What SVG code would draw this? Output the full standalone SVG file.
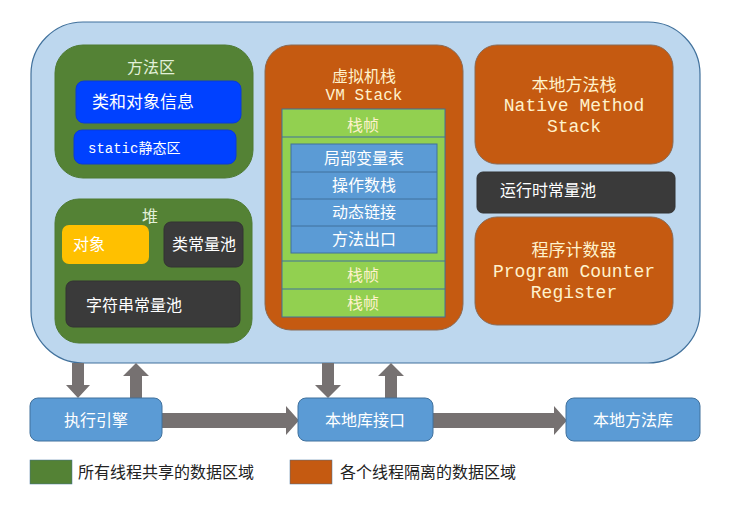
<svg xmlns="http://www.w3.org/2000/svg" width="737" height="514" viewBox="0 0 737 514">
<style>
text{font-family:"Noto Sans CJK SC","Noto Sans",sans-serif;font-size:16px;}
.mono{font-family:"Liberation Mono","DejaVu Sans Mono","Noto Sans CJK SC",monospace;}
.c{text-anchor:middle;}
.cream{fill:#FFF2CC;}
.lg{fill:#E2F0D9;}
.w{fill:#FFFFFF;}
.green{fill:#548235;stroke:#4E7A33;stroke-width:1;}
.orange{fill:#C55A11;stroke:#8A6A55;stroke-width:1;}
.dark{fill:#3A3A3A;stroke:#333;stroke-width:1;}
.vivid{fill:#0041FF;stroke:#0A3AD8;stroke-width:1;}
.frame{fill:#92D050;stroke:#41719C;stroke-width:1;}
.slot{fill:#5B9BD5;stroke:#41719C;stroke-width:1;}
.bbox{fill:#5B9BD5;stroke:#41719C;stroke-width:1;}
.arr{fill:#767171;}
</style>
<rect width="737" height="514" fill="#FFFFFF"/>
<g id="jvm">
<rect x="31" y="22" width="669" height="341" rx="52" ry="52" fill="#BDD7EE" stroke="#41719C" stroke-width="1.2"/>
</g>
<g id="method-area">
<rect class="green" x="55" y="45" width="198" height="133" rx="28"/>
<text class="c lg" x="151" y="73">方法区</text>
<rect class="vivid" x="76" y="81" width="165" height="42" rx="8"/>
<text class="c w" x="143" y="108" style="font-size:17px">类和对象信息</text>
<rect class="vivid" x="74" y="130" width="162" height="34" rx="8"/>
<text class="mono w" x="88" y="153" style="font-size:14px">static静态区</text>
</g>
<g id="heap">
<rect class="green" x="55" y="199" width="197" height="144" rx="24"/>
<text class="c lg" x="150" y="222">堆</text>
<rect x="62" y="225" width="87" height="39" rx="7" fill="#FFC000"/>
<text class="w" x="73" y="250">对象</text>
<rect class="dark" x="164" y="222" width="79" height="45" rx="7"/>
<text class="c w" x="204" y="250">类常量池</text>
<rect class="dark" x="66" y="281" width="174" height="46" rx="7"/>
<text class="w" x="86" y="311">字符串常量池</text>
</g>
<g id="vm-stack">
<rect class="orange" x="265" y="45" width="198" height="285" rx="26"/>
<text class="c cream" x="364" y="82">虚拟机栈</text>
<text class="c cream mono" x="364" y="100" style="font-size:16px">VM Stack</text>
<rect class="frame" x="282" y="109" width="163" height="208"/>
<line x1="282" y1="137" x2="445" y2="137" stroke="#41719C" stroke-width="1"/>
<line x1="282" y1="261" x2="445" y2="261" stroke="#41719C" stroke-width="1"/>
<line x1="282" y1="289" x2="445" y2="289" stroke="#41719C" stroke-width="1"/>
<text class="c cream" x="363" y="131">栈帧</text>
<rect class="slot" x="291" y="144" width="146" height="109"/>
<line x1="291" y1="172" x2="437" y2="172" stroke="#41719C" stroke-width="1"/>
<line x1="291" y1="199" x2="437" y2="199" stroke="#41719C" stroke-width="1"/>
<line x1="291" y1="226" x2="437" y2="226" stroke="#41719C" stroke-width="1"/>
<text class="c w" x="364" y="164">局部变量表</text>
<text class="c w" x="364" y="191">操作数栈</text>
<text class="c w" x="364" y="218">动态链接</text>
<text class="c w" x="364" y="245">方法出口</text>
<text class="c cream" x="363" y="281">栈帧</text>
<text class="c cream" x="363" y="309">栈帧</text>
</g>
<g id="native-method-stack">
<rect class="orange" x="475" y="45" width="198" height="119" rx="22"/>
<text class="c cream" x="574" y="91" style="font-size:17px">本地方法栈</text>
<text class="c cream mono" x="574" y="111" style="font-size:18px">Native Method</text>
<text class="c cream mono" x="574" y="132" style="font-size:18px">Stack</text>
</g>
<g id="runtime-constant-pool">
<rect class="dark" x="477" y="172" width="198" height="41" rx="6"/>
<text class="w" x="500" y="196">运行时常量池</text>
</g>
<g id="program-counter">
<rect class="orange" x="475" y="217" width="198" height="108" rx="22"/>
<text class="c cream" x="574" y="256" style="font-size:17px">程序计数器</text>
<text class="c cream mono" x="574" y="277" style="font-size:18px">Program Counter</text>
<text class="c cream mono" x="574" y="298" style="font-size:18px">Register</text>
</g>
<g id="connectors">
<polygon class="arr" points="72,363 84,363 84,385 90,385 78,398 66,385 72,385"/>
<polygon class="arr" points="130,398 142,398 142,376 149,376 136,363 123,376 130,376"/>
<polygon class="arr" points="322,363 334,363 334,385 341,385 328,398 315,385 322,385"/>
<polygon class="arr" points="385,398 397,398 397,376 404,376 391,363 378,376 385,376"/>
<polygon class="arr" points="162,413 286,413 286,406 299,420.5 286,435 286,428 162,428"/>
<polygon class="arr" points="433,413 554,413 554,406 567,420.5 554,435 554,428 433,428"/>
</g>
<g id="execution-engine">
<rect class="bbox" x="30" y="398" width="132" height="43" rx="8"/>
<text class="c w" x="96" y="426">执行引擎</text>
</g>
<g id="native-interface">
<rect class="bbox" x="298" y="398" width="135" height="43" rx="8"/>
<text class="c w" x="365" y="426">本地库接口</text>
</g>
<g id="native-library">
<rect class="bbox" x="566" y="398" width="134" height="43" rx="8"/>
<text class="c w" x="633" y="426">本地方法库</text>
</g>
<g id="legend">
<rect x="30" y="460" width="42" height="24" fill="#548235" stroke="#41719C" stroke-width="0.5"/>
<text x="78" y="478" fill="#222">所有线程共享的数据区域</text>
<rect x="290" y="460" width="42" height="24" fill="#C55A11" stroke="#41719C" stroke-width="0.5"/>
<text x="340" y="478" fill="#222">各个线程隔离的数据区域</text>
</g>
</svg>
